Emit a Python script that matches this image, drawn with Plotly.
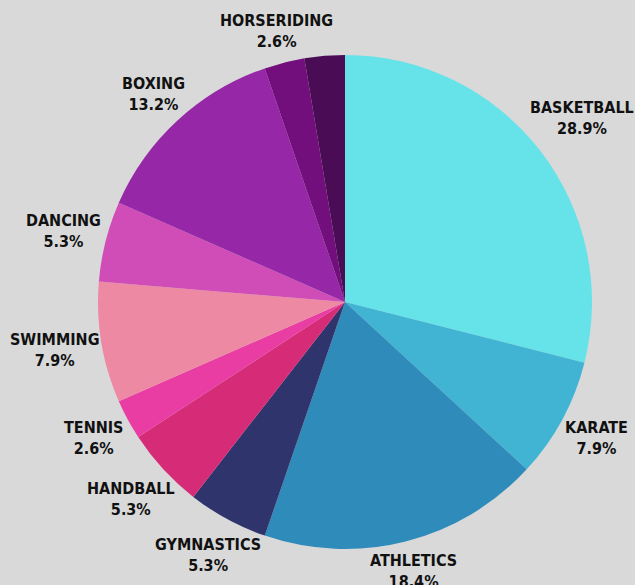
import math
import plotly.graph_objects as go

# Sports and the number of people choosing each one
sports = ["BASKETBALL", "KARATE", "ATHLETICS", "GYMNASTICS", "HANDBALL",
          "TENNIS", "SWIMMING", "DANCING", "BOXING", "HORSERIDING", "OTHER"]
counts = [11, 3, 7, 2, 2, 1, 3, 2, 5, 1, 1]
colors = ["#66E3E8", "#41B4D4", "#2E8BBA", "#2F346C", "#D62B77",
          "#EA3DA4", "#EE89A4", "#D04DB8", "#9627A6", "#730F7C", "#4A0D55"]
# the last slice carries no label
show_label = [True] * 10 + [False]

W, H = 635, 585
margin = dict(l=98, r=43, t=55, b=36)
plot_w = W - margin["l"] - margin["r"]
plot_h = H - margin["t"] - margin["b"]

FONT = dict(family="DejaVu Sans Condensed, DejaVu Sans, sans-serif",
            size=16, color="#111111", weight="bold")

fig = go.Figure(go.Pie(
    labels=sports,
    values=counts,
    marker=dict(colors=colors, line=dict(width=0)),
    sort=False,
    direction="clockwise",
    rotation=0,
    textinfo="none",
    hoverinfo="label+percent",
    showlegend=False,
))

# Outside labels: placed beyond the rim along each slice's mid-angle,
# pushed out by the half-extent of the text block in that direction.
total = sum(counts)
cx, cy = margin["l"] + plot_w / 2, margin["t"] + plot_h / 2
radius = min(plot_w, plot_h) / 2
gap, char_w, half_h = 8, 9.5, 12
cum = 0
for name, n, show in zip(sports, counts, show_label):
    mid = (cum + n / 2) / total * 2 * math.pi
    cum += n
    if not show:
        continue
    pct = 100 * n / total
    s, c = math.sin(mid), math.cos(mid)
    half_w = len(name) * char_w / 2
    dist = radius + gap + half_w * abs(s) + half_h * abs(c)
    px, py = cx + dist * s, cy - dist * c
    fig.add_annotation(
        x=(px - margin["l"]) / plot_w,
        y=(H - margin["b"] - py) / plot_h,
        xref="paper", yref="paper",
        text=f"{name}<br>{pct:.1f}%",
        showarrow=False,
        xanchor="center", yanchor="middle",
        align="center",
        font=FONT,
    )

fig.update_layout(
    width=W, height=H,
    margin=margin,
    paper_bgcolor="#D9D9D9",
    plot_bgcolor="#D9D9D9",
)

fig.write_html("out.html")
